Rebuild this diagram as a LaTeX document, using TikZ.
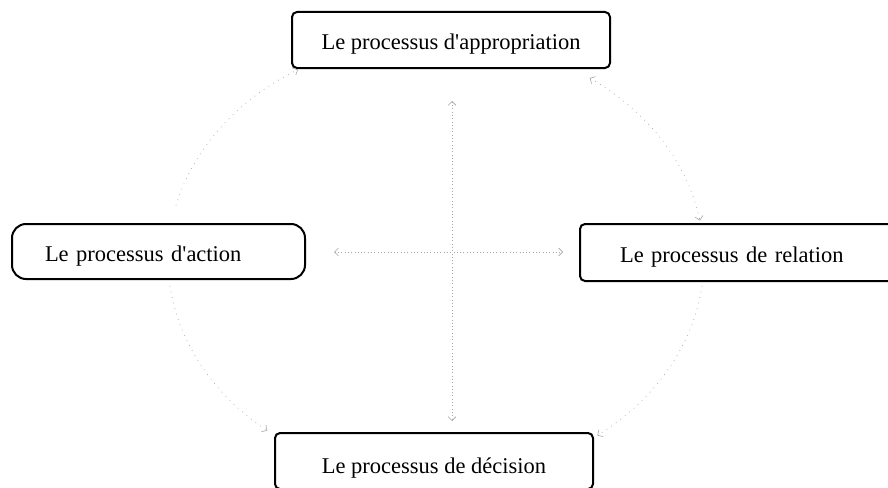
\documentclass[tikz,border=0pt]{standalone}
\usepackage{fontspec}
\setmainfont{Liberation Serif}[Ligatures=TeXOff]
\usetikzlibrary{arrows.meta}

\tikzset{
  procbox/.style={draw=black, line width=2pt, rounded corners=5pt, fill=white,
    inner ysep=0pt, text height=20pt, text depth=1pt,
    font=\fontsize{22.5}{27}\selectfont},
  ringline/.style={draw=gray!70, line width=0.7pt, dash pattern=on 0.7pt off 5pt,
    arrows={-Straight Barb[length=4pt,width=8pt,line width=0.6pt]}},
  crossline/.style={draw=gray!70, line width=0.7pt, dash pattern=on 0.8pt off 2.5pt,
    arrows={Straight Barb[length=4pt,width=8pt,line width=0.6pt]-Straight Barb[length=4pt,width=8pt,line width=0.6pt]}}
}

\begin{document}
\begin{tikzpicture}[x=1pt, y=-1pt]
  \clip (0,0) rectangle (888,487);
  \fill[white] (0,0) rectangle (888,487);

  % the four processes
  \node[procbox, minimum width=318pt, minimum height=56pt] (app) at (451,40)
    {Le processus d'appropriation};
  \node[procbox, rounded corners=14pt, text width=227pt, align=left,
        inner xsep=33pt, minimum height=55pt] (act) at (158.5,251.5)
    {Le processus d'action};
  \node[procbox, text width=245pt, align=left, inner xsep=40pt,
        minimum height=57pt] (rel) at (742.5,252.5)
    {Le processus de relation};
  \node[procbox, text height=26pt, minimum width=318pt, minimum height=56pt] (dec) at (434,461)
    {Le processus de décision};

  % outer cycle, drawn as pieces of one ellipse
  \coordinate (ctr) at (436,259);
  \path (ctr) ++(-166:268 and 221) coordinate (ringA);
  \path (ctr) ++(-55:268 and 221)  coordinate (ringB);
  \path (ctr) ++(7:268 and 221)    coordinate (ringC);
  \path (ctr) ++(173:268 and 221)  coordinate (ringD);

  \draw[ringline] (ringA) arc[start angle=-166, end angle=-121, x radius=268, y radius=221];
  \draw[ringline, arrows={Straight Barb[length=4pt,width=8pt,line width=0.6pt]-Straight Barb[length=4pt,width=8pt,line width=0.6pt]}]
    (ringB) arc[start angle=-55, end angle=-10, x radius=268, y radius=221];
  \draw[ringline] (ringC) arc[start angle=7, end angle=53, x radius=268, y radius=221];
  \draw[ringline] (ringD) arc[start angle=173, end angle=129, x radius=268, y radius=221];

  % central cross
  \coordinate (vtop) at (452,101);
  \coordinate (vbot) at (452,421);
  \draw[crossline] (vtop) -- (vbot);
  \draw[crossline, shorten <=28pt, shorten >=16pt] (act.east |- 0,252) -- (rel.west |- 0,252);
\end{tikzpicture}
\end{document}
